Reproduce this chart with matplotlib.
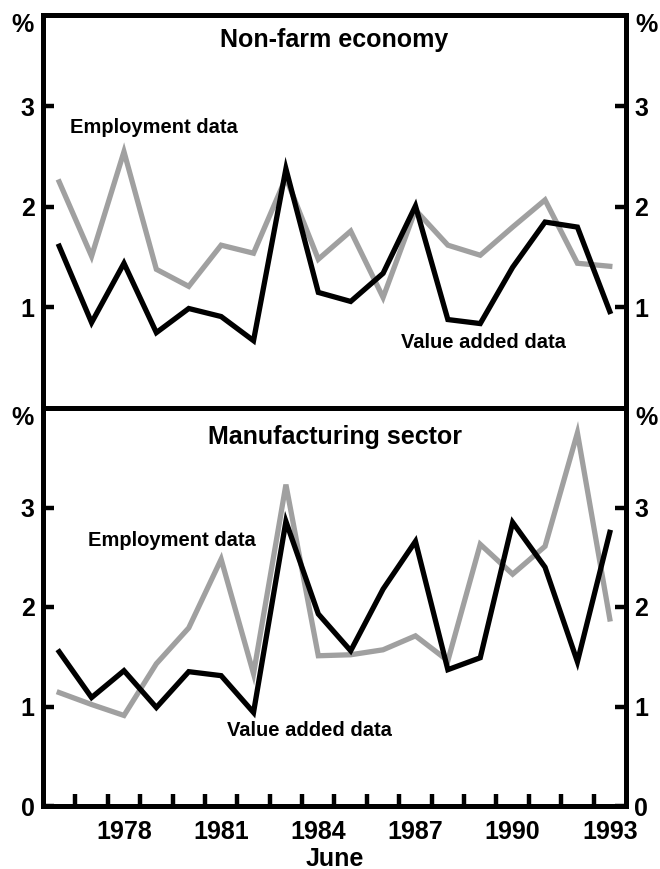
import matplotlib
matplotlib.use("Agg")
import matplotlib.pyplot as plt

plt.rcParams['font.family'] = ['Liberation Sans', 'DejaVu Sans']
plt.rcParams['font.weight'] = 'bold'

years = list(range(1976, 1994))

# Non-farm economy
nonfarm_value_added = [1.61, 0.85, 1.44, 0.75, 0.99, 0.91, 0.67, 2.38, 1.15, 1.06,
                       1.34, 2.01, 0.88, 0.84, 1.40, 1.85, 1.80, 0.96]
nonfarm_employment = [2.25, 1.51, 2.55, 1.38, 1.21, 1.62, 1.54, 2.29, 1.48, 1.76,
                      1.10, 1.97, 1.62, 1.52, 1.80, 2.07, 1.44, 1.41]

# Manufacturing sector
manuf_value_added = [1.55, 1.09, 1.36, 0.99, 1.35, 1.31, 0.94, 2.86, 1.93, 1.56,
                     2.18, 2.66, 1.37, 1.49, 2.85, 2.40, 1.45, 2.75]
manuf_employment = [1.14, 1.02, 0.91, 1.43, 1.79, 2.48, 1.33, 3.23, 1.51, 1.52,
                    1.57, 1.71, 1.46, 2.63, 2.33, 2.61, 3.75, 1.88]

label_years = [1978, 1981, 1984, 1987, 1990, 1993]
boundary_ticks = [y + 0.5 for y in range(1976, 1993)]

BLACK = '#000000'
GRAY = '#a0a0a0'
LW = 3.8
SPINE_W = 3.6
TICK_FS = 18
TITLE_FS = 18
NOTE_FS = 14.5

fig = plt.figure(figsize=(6.6, 8.69), dpi=100)
W, H = 660, 869
left = 43 / W
width = (626 - 43) / W
ax1 = fig.add_axes([left, 1 - 408 / H, width, (408 - 15) / H])
ax2 = fig.add_axes([left, 1 - 806 / H, width, (806 - 408) / H])

for ax in (ax1, ax2):
    for s in ax.spines.values():
        s.set_linewidth(SPINE_W)
    ax.set_xlim(1975.5, 1993.5)
    ax.tick_params(axis='y', direction='in', length=8, width=3.2, left=True, right=True,
                   labelleft=True, labelright=True, labelsize=TICK_FS, pad=6)

# Top panel
ax1.plot(years, nonfarm_employment, color=GRAY, lw=LW, solid_joinstyle='miter')
ax1.plot(years, nonfarm_value_added, color=BLACK, lw=LW, solid_joinstyle='miter')
ax1.set_ylim(0, 3.91)
ax1.set_yticks([1, 2, 3])
ax1.set_xticks([])
ax1.text(0.5, 0.936, 'Non-farm economy', transform=ax1.transAxes, ha='center', va='center',
         fontsize=TITLE_FS, fontweight='bold')
ax1.text(1976.33, 2.79, 'Employment data', ha='left', va='center', fontsize=NOTE_FS, fontweight='bold')
ax1.text(1986.54, 0.65, 'Value added data', ha='left', va='center', fontsize=NOTE_FS, fontweight='bold')

# Bottom panel
ax2.plot(years, manuf_employment, color=GRAY, lw=LW, solid_joinstyle='miter')
ax2.plot(years, manuf_value_added, color=BLACK, lw=LW, solid_joinstyle='miter')
ax2.set_ylim(0, 4.0)
ax2.set_yticks([0, 1, 2, 3])
ax2.set_xticks(label_years)
ax2.set_xticklabels([str(y) for y in label_years])
ax2.set_xticks(boundary_ticks, minor=True)
ax2.tick_params(axis='x', which='major', length=0, labelsize=TICK_FS, pad=10)
ax2.tick_params(axis='x', which='minor', direction='in', length=9, width=3.2)
ax2.set_xlabel('June', fontsize=TICK_FS, fontweight='bold', labelpad=2)
ax2.text(0.5, 0.927, 'Manufacturing sector', transform=ax2.transAxes, ha='center', va='center',
         fontsize=TITLE_FS, fontweight='bold')
ax2.text(1976.89, 2.67, 'Employment data', ha='left', va='center', fontsize=NOTE_FS, fontweight='bold')
ax2.text(1981.19, 0.76, 'Value added data', ha='left', va='center', fontsize=NOTE_FS, fontweight='bold')

# Percent unit labels
for py in (25, 418):
    fig.text(23 / W, 1 - py / H, '%', ha='center', va='center', fontsize=TICK_FS, fontweight='bold')
    fig.text(646 / W, 1 - py / H, '%', ha='center', va='center', fontsize=TICK_FS, fontweight='bold')

fig.savefig('out.png', dpi=100)
